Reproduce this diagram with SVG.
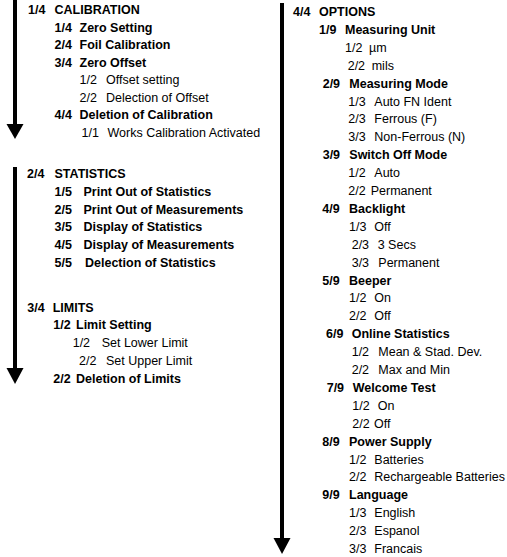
<svg xmlns="http://www.w3.org/2000/svg" width="507" height="557" viewBox="0 0 507 557">
<style>
text{font-family:"Liberation Sans",Arial,sans-serif;font-size:12.5px;fill:#000}
.b{font-weight:bold}
.shaft{stroke:#000;stroke-width:4;fill:none}
.head{fill:#000}
</style>
<rect width="507" height="557" fill="#fff"/>
<g id="connectors">
<line class="shaft" x1="15" y1="0" x2="15" y2="125"/>
<polygon class="head" points="6.5,124 23.5,124 15,139"/>
<line class="shaft" x1="15" y1="167" x2="15" y2="369"/>
<polygon class="head" points="6.5,368 23.5,368 15,384"/>
<line class="shaft" x1="282" y1="3" x2="282" y2="539"/>
<polygon class="head" points="273.5,538 290.5,538 282,554"/>
</g>
<g id="calibration">
<g id="cal"><text class="b" y="14"><tspan x="28">1/4</tspan><tspan x="54.5">CALIBRATION</tspan></text></g>
<g id="cal-zero"><text class="b" y="31.5"><tspan x="54.5">1/4</tspan><tspan x="79.5">Zero Setting</tspan></text></g>
<g id="cal-foil"><text class="b" y="49"><tspan x="54.5">2/4</tspan><tspan x="79.5">Foil Calibration</tspan></text></g>
<g id="cal-offset"><text class="b" y="66.5"><tspan x="54.5">3/4</tspan><tspan x="79.5">Zero Offset</tspan></text></g>
<g id="cal-offset-1"><text y="84"><tspan x="79.5">1/2</tspan><tspan x="106">Offset setting</tspan></text></g>
<g id="cal-offset-2"><text y="101.5"><tspan x="79.5">2/2</tspan><tspan x="106">Delection of Offset</tspan></text></g>
<g id="cal-del"><text class="b" y="119"><tspan x="54.5">4/4</tspan><tspan x="79.5">Deletion of Calibration</tspan></text></g>
<g id="cal-del-1"><text y="136.5"><tspan x="81.5">1/1</tspan><tspan x="107.5">Works Calibration Activated</tspan></text></g>
</g>
<g id="statistics">
<g id="stat"><text class="b" y="178"><tspan x="27">2/4</tspan><tspan x="54.5">STATISTICS</tspan></text></g>
<g id="stat-1"><text class="b" y="195.8"><tspan x="54.5">1/5</tspan><tspan x="83.5">Print Out of Statistics</tspan></text></g>
<g id="stat-2"><text class="b" y="213.6"><tspan x="54.5">2/5</tspan><tspan x="83.5">Print Out of Measurements</tspan></text></g>
<g id="stat-3"><text class="b" y="231.4"><tspan x="54.5">3/5</tspan><tspan x="83.5">Display of Statistics</tspan></text></g>
<g id="stat-4"><text class="b" y="249.2"><tspan x="54.5">4/5</tspan><tspan x="83.5">Display of Measurements</tspan></text></g>
<g id="stat-5"><text class="b" y="267"><tspan x="54.5">5/5</tspan><tspan x="85">Delection of Statistics</tspan></text></g>
</g>
<g id="limits">
<g id="lim"><text class="b" y="311.7"><tspan x="27.3">3/4</tspan><tspan x="52.7">LIMITS</tspan></text></g>
<g id="lim-set"><text class="b" y="329.4"><tspan x="53.3">1/2</tspan><tspan x="76">Limit Setting</tspan></text></g>
<g id="lim-set-1"><text y="347.2"><tspan x="72.7">1/2</tspan><tspan x="101.7">Set Lower Limit</tspan></text></g>
<g id="lim-set-2"><text y="365"><tspan x="79">2/2</tspan><tspan x="106">Set Upper Limit</tspan></text></g>
<g id="lim-del"><text class="b" y="382.7"><tspan x="53.3">2/2</tspan><tspan x="76">Deletion of Limits</tspan></text></g>
</g>
<g id="options">
<g id="opt"><text class="b" y="16"><tspan x="293">4/4</tspan><tspan x="319">OPTIONS</tspan></text></g>
<g id="opt-unit"><text class="b" y="33.9"><tspan x="319">1/9</tspan><tspan x="345">Measuring Unit</tspan></text></g>
<g id="opt-unit-1"><text y="51.8"><tspan x="345">1/2</tspan><tspan x="369">µm</tspan></text></g>
<g id="opt-unit-2"><text y="69.7"><tspan x="347.7">2/2</tspan><tspan x="371.7">mils</tspan></text></g>
<g id="opt-mode"><text class="b" y="87.6"><tspan x="322.7">2/9</tspan><tspan x="349.3">Measuring Mode</tspan></text></g>
<g id="opt-mode-1"><text y="105.5"><tspan x="348.3">1/3</tspan><tspan x="374.3">Auto FN Ident</tspan></text></g>
<g id="opt-mode-2"><text y="123.4"><tspan x="348.3">2/3</tspan><tspan x="374.3">Ferrous (F)</tspan></text></g>
<g id="opt-mode-3"><text y="141.3"><tspan x="348.3">3/3</tspan><tspan x="374.3">Non-Ferrous (N)</tspan></text></g>
<g id="opt-off"><text class="b" y="159.2"><tspan x="322.7">3/9</tspan><tspan x="349.3">Switch Off Mode</tspan></text></g>
<g id="opt-off-1"><text y="177.1"><tspan x="348.3">1/2</tspan><tspan x="374.3">Auto</tspan></text></g>
<g id="opt-off-2"><text y="195"><tspan x="348.3">2/2</tspan><tspan x="370.7">Permanent</tspan></text></g>
<g id="opt-back"><text class="b" y="212.9"><tspan x="322.3">4/9</tspan><tspan x="349">Backlight</tspan></text></g>
<g id="opt-back-1"><text y="230.8"><tspan x="349">1/3</tspan><tspan x="374.3">Off</tspan></text></g>
<g id="opt-back-2"><text y="248.7"><tspan x="351.7">2/3</tspan><tspan x="377.7">3 Secs</tspan></text></g>
<g id="opt-back-3"><text y="266.6"><tspan x="351.7">3/3</tspan><tspan x="378.3">Permanent</tspan></text></g>
<g id="opt-beep"><text class="b" y="284.5"><tspan x="322.3">5/9</tspan><tspan x="349">Beeper</tspan></text></g>
<g id="opt-beep-1"><text y="302.4"><tspan x="349">1/2</tspan><tspan x="374.3">On</tspan></text></g>
<g id="opt-beep-2"><text y="320.3"><tspan x="349">2/2</tspan><tspan x="374.3">Off</tspan></text></g>
<g id="opt-online"><text class="b" y="338.2"><tspan x="326">6/9</tspan><tspan x="351.7">Online Statistics</tspan></text></g>
<g id="opt-online-1"><text y="356.1"><tspan x="351.7">1/2</tspan><tspan x="378.3">Mean &amp; Stad. Dev.</tspan></text></g>
<g id="opt-online-2"><text y="374"><tspan x="351.7">2/2</tspan><tspan x="378.3">Max and Min</tspan></text></g>
<g id="opt-welcome"><text class="b" y="391.9"><tspan x="326.7">7/9</tspan><tspan x="352.7">Welcome Test</tspan></text></g>
<g id="opt-welcome-1"><text y="409.8"><tspan x="352.3">1/2</tspan><tspan x="377.7">On</tspan></text></g>
<g id="opt-welcome-2"><text y="427.7"><tspan x="352.3">2/2</tspan><tspan x="374">Off</tspan></text></g>
<g id="opt-power"><text class="b" y="445.6"><tspan x="322.3">8/9</tspan><tspan x="349">Power Supply</tspan></text></g>
<g id="opt-power-1"><text y="463.5"><tspan x="349">1/2</tspan><tspan x="374.3">Batteries</tspan></text></g>
<g id="opt-power-2"><text y="481.4"><tspan x="349">2/2</tspan><tspan x="374.3">Rechargeable Batteries</tspan></text></g>
<g id="opt-lang"><text class="b" y="499.3"><tspan x="322.3">9/9</tspan><tspan x="349">Language</tspan></text></g>
<g id="opt-lang-1"><text y="517.2"><tspan x="349">1/3</tspan><tspan x="374.3">English</tspan></text></g>
<g id="opt-lang-2"><text y="535.1"><tspan x="349">2/3</tspan><tspan x="374.3">Espanol</tspan></text></g>
<g id="opt-lang-3"><text y="553"><tspan x="349">3/3</tspan><tspan x="374.3">Francais</tspan></text></g>
</g>
</svg>
